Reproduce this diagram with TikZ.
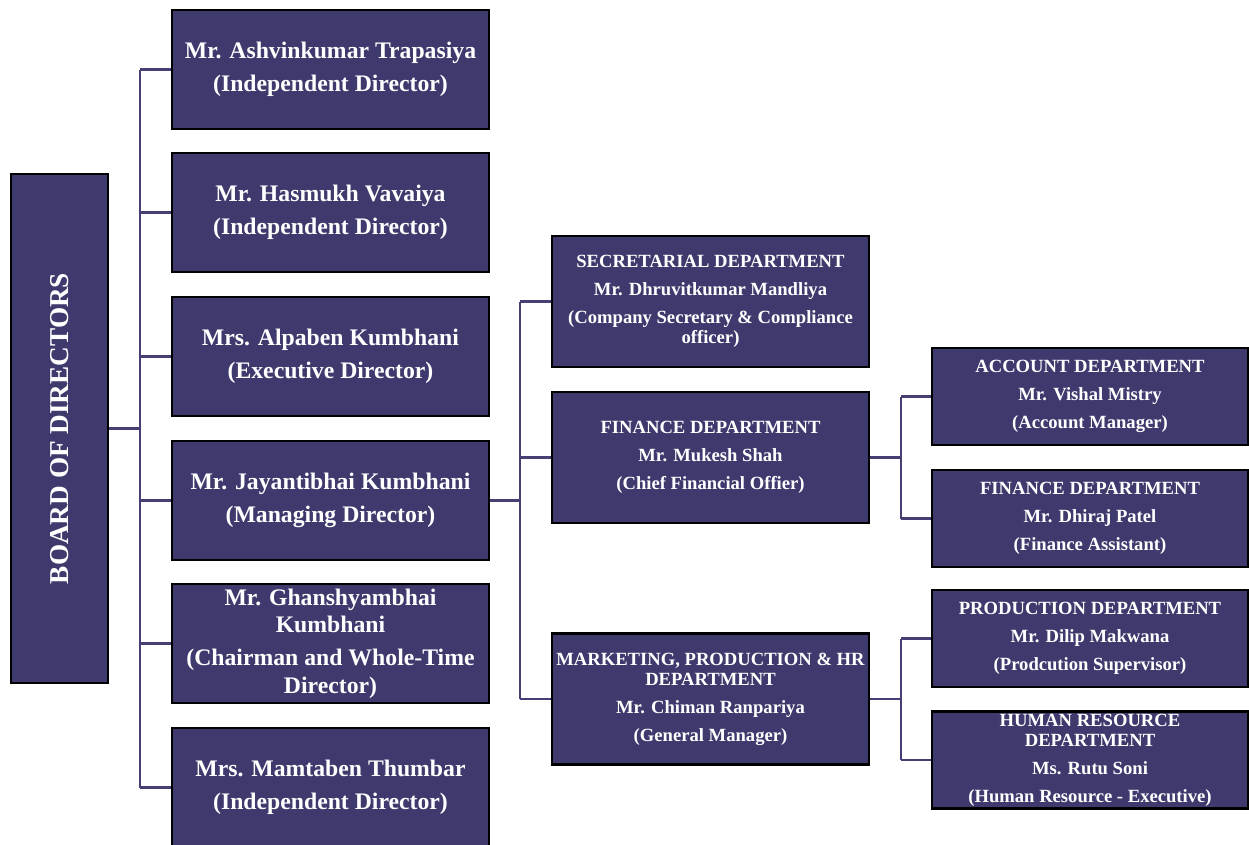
\documentclass[tikz,border=0pt]{standalone}
\usepackage{fontspec}
\setmainfont{Liberation Serif}
\usetikzlibrary{calc,positioning}

\definecolor{boxfill}{HTML}{3F3A6D}
\definecolor{linkcol}{HTML}{453F74}

\tikzset{
  orgbox/.style={draw=black, line width=1.3pt, fill=boxfill, text=white,
    align=center, inner sep=0pt, minimum width=6.34cm},
  dirbox/.style={orgbox, minimum height=2.38cm, font=\bfseries\fontsize{13.5}{15.5}\selectfont},
  deptbox/.style={orgbox, minimum height=2.62cm, font=\bfseries\fontsize{10.6}{11.8}\selectfont},
  subbox/.style={orgbox, minimum width=6.32cm, minimum height=1.94cm, font=\bfseries\fontsize{10.6}{11.8}\selectfont},
  link/.style={draw=linkcol, line width=1.5pt}
}

\begin{document}
\begin{tikzpicture}[x=0.02cm, y=-0.02cm]
\useasboundingbox (0,0) rectangle (1249,845);

% board
\node[orgbox, minimum width=1.94cm, minimum height=10.18cm] (bod) at (59.5,428.5) {};
\node[rotate=90, text=white, font=\bfseries\fontsize{15.5}{17}\selectfont] at (bod.center) {BOARD OF DIRECTORS};

% directors
\node[dirbox] (dir1) at (330.5,69.5) {Mr. Ashvinkumar Trapasiya\\[3.5pt](Independent Director)};
\node[dirbox] (dir2) at (330.5,212.5) {Mr. Hasmukh Vavaiya\\[3.5pt](Independent Director)};
\node[dirbox] (dir3) at (330.5,356.5) {Mrs. Alpaben Kumbhani\\[3.5pt](Executive Director)};
\node[dirbox] (dir4) at (330.5,500.5) {Mr. Jayantibhai Kumbhani\\[3.5pt](Managing Director)};
\node[dirbox] (dir5) at (330.5,643.5) {Mr. Ghanshyambhai\\Kumbhani\\[3.5pt](Chairman and Whole-Time\\Director)};
\node[dirbox] (dir6) at (330.5,787.5) {Mrs. Mamtaben Thumbar\\[3.5pt](Independent Director)};

% departments
\node[deptbox] (sec) at (710.5,301.5) {SECRETARIAL DEPARTMENT\\[4pt]Mr. Dhruvitkumar Mandliya\\[4pt](Company Secretary \& Compliance\\officer)};
\node[deptbox] (fin) at (710.5,457.5) {FINANCE DEPARTMENT\\[4pt]Mr. Mukesh Shah\\[4pt](Chief Financial Offier)};
\node[deptbox] (mkt) at (710.5,699) {MARKETING, PRODUCTION \& HR\\DEPARTMENT\\[4pt]Mr. Chiman Ranpariya\\[4pt](General Manager)};

% sub departments
\node[subbox] (acc) at (1090,396.5) {ACCOUNT DEPARTMENT\\[4pt]Mr. Vishal Mistry\\[4pt](Account Manager)};
\node[subbox] (fin2) at (1090,518.5) {FINANCE DEPARTMENT\\[4pt]Mr. Dhiraj Patel\\[4pt](Finance Assistant)};
\node[subbox] (prod) at (1090,638.5) {PRODUCTION DEPARTMENT\\[4pt]Mr. Dilip Makwana\\[4pt](Prodcution Supervisor)};
\node[subbox] (hr) at (1090,760) {HUMAN RESOURCE\\DEPARTMENT\\[4pt]Ms. Rutu Soni\\[4pt](Human Resource - Executive)};

% connectors
\coordinate (trunk) at (140,428.5);
\coordinate (deptbus) at (520,500.5);
\coordinate (finbus) at (901,457.5);
\coordinate (mktbus) at (901,699);

\draw[link] (bod.east) -- (trunk);
\draw[link] (dir1.west -| trunk) -- (dir6.west -| trunk);
\foreach \d in {dir1,dir2,dir3,dir4,dir5,dir6}
  \draw[link] (\d.west) -- (\d.west -| trunk);

\draw[link] (dir4.east) -- (deptbus);
\draw[link] (sec.west -| deptbus) -- (mkt.west -| deptbus);
\foreach \d in {sec,fin,mkt}
  \draw[link] (\d.west) -- (\d.west -| deptbus);

\draw[link] (fin.east) -- (finbus);
\draw[link] (acc.west -| finbus) -- (fin2.west -| finbus);
\draw[link] (acc.west) -- (acc.west -| finbus);
\draw[link] (fin2.west) -- (fin2.west -| finbus);

\draw[link] (mkt.east) -- (mktbus);
\draw[link] (prod.west -| mktbus) -- (hr.west -| mktbus);
\draw[link] (prod.west) -- (prod.west -| mktbus);
\draw[link] (hr.west) -- (hr.west -| mktbus);
\end{tikzpicture}
\end{document}
